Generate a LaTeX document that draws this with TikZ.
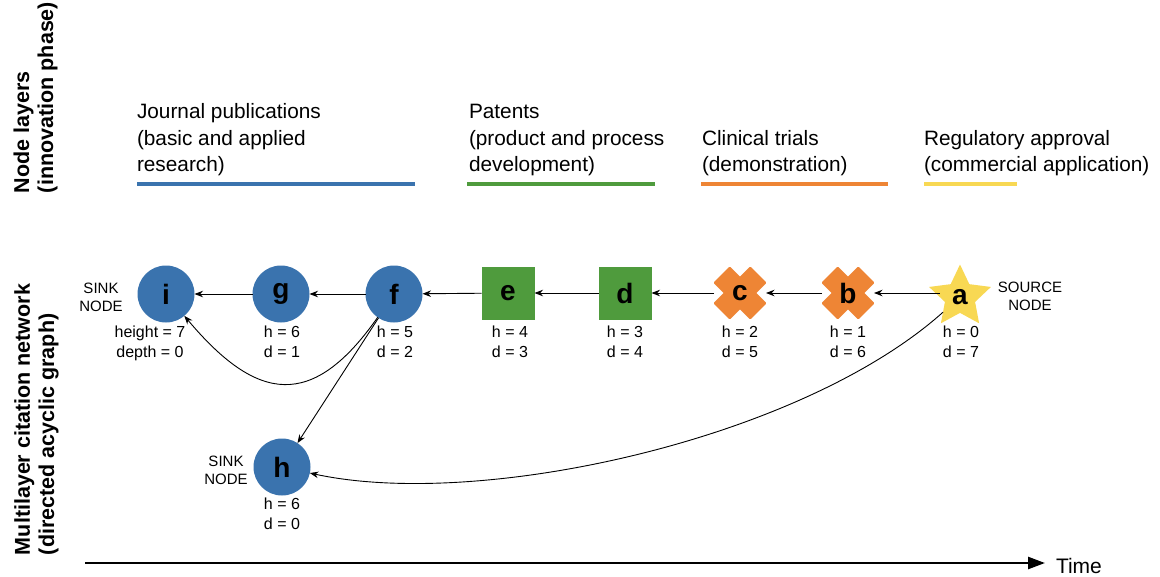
\documentclass[tikz,border=0pt]{standalone}
\usepackage{fontspec}
\setmainfont{Liberation Sans}
\usetikzlibrary{shapes.geometric, arrows.meta}
\definecolor{cblue}{HTML}{3A73AE}
\definecolor{cgreen}{HTML}{4F9B3D}
\definecolor{corange}{HTML}{EE8535}
\definecolor{cyellow}{HTML}{F8D853}
\begin{document}
\begin{tikzpicture}[x=1pt,y=1pt,
  every node/.style={inner sep=0pt, outer sep=0pt},
  toptext/.style={font=\fontsize{20.8}{26}\selectfont, anchor=base west},
  sidetext/.style={font=\bfseries\fontsize{21.5}{24}\selectfont, rotate=90, anchor=base west},
  vallbl/.style={font=\fontsize{16}{19.5}\selectfont, align=center, anchor=north},
  roletxt/.style={font=\fontsize{15}{18.5}\selectfont, align=center},
  nodeletter/.style={font=\bfseries\fontsize{28}{30}\selectfont},
  pub/.style={circle, fill=cblue, minimum size=57pt, nodeletter},
  pat/.style={rectangle, fill=cgreen, minimum size=53pt, nodeletter},
  xbar/.style={rectangle, fill=corange, minimum width=52pt, minimum height=23pt, rounded corners=1pt},
  trialnode/.style={rectangle, minimum size=52pt, nodeletter},
  approval/.style={star, star points=5, star point ratio=2.05, fill=cyellow, minimum size=65pt, nodeletter},
  link/.style={-{Stealth[length=8.5pt,width=6.5pt]}, line width=0.9pt},
  layerline/.style={line width=4pt}
]
\useasboundingbox[fill=white] (0,0) rectangle (1160,-576);

% side labels
\node[sidetext] (sl1) at (29,-193) {Node layers};
\node[sidetext] (sl2) at (53,-193) {(innovation phase)};
\node[sidetext] (sl3) at (30,-555) {Multilayer citation network};
\node[sidetext] (sl4) at (54,-555) {(directed acyclic graph)};

% layer headings
\node[toptext] (jp1) at (137,-118) {Journal publications};
\node[toptext] (jp2) at (137,-145) {(basic and applied};
\node[toptext] (jp3) at (137,-171) {research)};
\node[toptext] (pt1) at (469,-118) {Patents};
\node[toptext] (pt2) at (469,-145) {(product and process};
\node[toptext] (pt3) at (469,-171) {development)};
\node[toptext] (ct1) at (702,-145) {Clinical trials};
\node[toptext] (ct2) at (702,-171) {(demonstration)};
\node[toptext] (ra1) at (924,-145) {Regulatory approval};
\node[toptext] (ra2) at (924,-171) {(commercial application)};

\draw[layerline, cblue] (137,-184) -- (415,-184);
\draw[layerline, cgreen] (467,-184) -- (655,-184);
\draw[layerline, corange] (701,-184) -- (888,-184);
\draw[layerline, cyellow] (924,-184) -- (1017,-184);

% nodes
\node[pub] (i) at (166,-294) {i};
\node[pub] (g) at (281,-294) {g};
\node[pub] (f) at (394,-294) {f};
\node[pat] (e) at (508,-293) {e};
\node[pat] (d) at (625,-293) {d};
\node[xbar, rotate=45] at (740,-293) {};
\node[xbar, rotate=-45] at (740,-293) {};
\node[trialnode] (c) at (740,-293) {c};
\node[xbar, rotate=45] at (848,-293) {};
\node[xbar, rotate=-45] at (848,-293) {};
\node[trialnode] (b) at (848,-293) {b};
\node[approval] (a) at (960,-297) {a};
\node[pub] (h) at (282,-467) {h};

% role labels
\node[roletxt] (sinki) at (101,-297.5) {SINK\\NODE};
\node[roletxt] (sinkh) at (226,-470.5) {SINK\\NODE};
\node[roletxt] (srca) at (1030,-296.5) {SOURCE\\NODE};

% value labels
\node[vallbl] (vi) at (150,-326) {height = 7\\depth = 0};
\node[vallbl] (vg) at (282,-326) {h = 6\\d = 1};
\node[vallbl] (vf) at (395,-326) {h = 5\\d = 2};
\node[vallbl] (ve) at (510,-326) {h = 4\\d = 3};
\node[vallbl] (vd) at (625,-326) {h = 3\\d = 4};
\node[vallbl] (vc) at (740,-326) {h = 2\\d = 5};
\node[vallbl] (vb) at (848,-326) {h = 1\\d = 6};
\node[vallbl] (va) at (961,-326) {h = 0\\d = 7};
\node[vallbl] (vh) at (282,-498) {h = 6\\d = 0};

% edges
\draw[link] (b -| a.west) -- (b);
\draw[link] (b) -- (c);
\draw[link] (c) -- (d);
\draw[link] (d) -- (e);
\draw[link] (e) -- (f);
\draw[link] (f) -- (g);
\draw[link] (g) -- (i);
\draw[link] (f) to[out=235, in=-50, looseness=1.5] (i);
\draw[link] (f) -- (h);
\draw[link] (a) .. controls (800,-440) and (480,-510) .. (h);

% time axis
\coordinate (t0) at (85,-563);
\coordinate (t1) at (1045,-563);
\draw[line width=2.5pt, -{Triangle[length=17pt,width=12pt]}] (t0) -- (t1);
\node[font=\fontsize{21}{24}\selectfont, anchor=base west] (time) at (1056,-573) {Time};
\end{tikzpicture}
\end{document}
